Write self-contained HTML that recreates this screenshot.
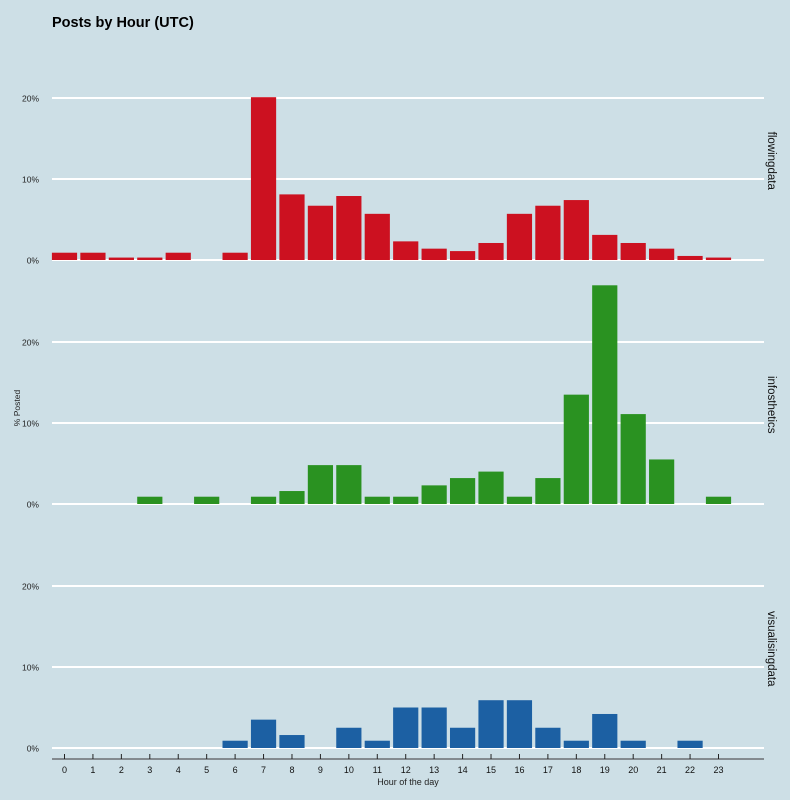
<!DOCTYPE html>
<html><head><meta charset="utf-8"><style>
body{margin:0;background:#cddfe6;}
svg{display:block;font-family:"Liberation Sans",Arial,sans-serif;}
</style></head><body>
<svg id="chart" width="790" height="800" viewBox="0 0 790 800">
<rect width="790" height="800" fill="#cddfe6"/>
<text x="52" y="27" font-size="14.5" font-weight="bold" fill="#000">Posts by Hour (UTC)</text>
<text transform="translate(20,408) rotate(-90)" text-anchor="middle" font-size="8.5" fill="#222">% Posted</text>
<text x="408" y="785" text-anchor="middle" font-size="9" fill="#222">Hour of the day</text>
<g id="plot"></g>
</svg>
<script>
const hours = [0,1,2,3,4,5,6,7,8,9,10,11,12,13,14,15,16,17,18,19,20,21,22,23];
const facetNames = ["flowingdata","infosthetics","visualisingdata"];
const facetColors = ["#cc1120","#2a9221","#1c60a3"];
const flowingdata = [0.9,0.9,0.3,0.3,0.9,0,0.9,20.1,8.1,6.7,7.9,5.7,2.3,1.4,1.1,2.1,5.7,6.7,7.4,3.1,2.1,1.4,0.5,0.3];
const infosthetics = [0,0,0,0.9,0,0.9,0,0.9,1.6,4.8,4.8,0.9,0.9,2.3,3.2,4.0,0.9,3.2,13.5,27.0,11.1,5.5,0,0.9];
const visualisingdata = [0,0,0,0,0,0,0.9,3.5,1.6,0,2.5,0.9,5.0,5.0,2.5,5.9,5.9,2.5,0.9,4.2,0.9,0,0.9,0];
const yTicks = [0,10,20];
const yTickLabels = ["0%","10%","20%"];

const seriesList = [flowingdata, infosthetics, visualisingdata];
const NS = "http://www.w3.org/2000/svg";
const g = document.getElementById("plot");
const pxPerPct = 8.1;
const step = 654/23;
function xScale(h){ return 64.5 + h*step; }
function yScale(v, f){ return 504 + (f-1)*244 - v*pxPerPct; }
function mk(tag, attrs){ const e=document.createElementNS(NS,tag); for(const k in attrs) e.setAttribute(k,attrs[k]); g.appendChild(e); return e; }

seriesList.forEach((series, f) => {
  yTicks.forEach((t, i) => {
    const y = yScale(t, f);
    const line = mk("line",{x1:52,x2:764,y1:y,y2:y,stroke:"#ffffff","stroke-width":2});
    
    
    const lab = mk("text",{x:39,y:y+3.5,"text-anchor":"end","font-size":8.5,fill:"#222"});
    lab.textContent = yTickLabels[i];
    
    
  });
  series.forEach((v, h) => {
    if (v <= 0) return;
    const y0 = yScale(0, f), y1 = yScale(v, f);
    const r = mk("rect",{x:xScale(hours[h])-12.6,y:y1,width:25.2,height:y0-y1,fill:facetColors[f]});
    
    
  });
  const cy = yScale(12.5, f) + 2;
  const ft = mk("text",{transform:"translate(768,"+cy+") rotate(90)","text-anchor":"middle","font-size":11.5,fill:"#111"});
  ft.textContent = facetNames[f];
  
  
});

const axis = mk("line",{x1:52,x2:764,y1:759,y2:759,stroke:"#6b6f72","stroke-width":1.5});


hours.forEach(h => {
  const x = xScale(h);
  const tk = mk("line",{x1:x,x2:x,y1:754,y2:759,stroke:"#222","stroke-width":1});
  
  
  const tl = mk("text",{x:x,y:773,"text-anchor":"middle","font-size":9,fill:"#111"});
  tl.textContent = h;
  
  
});
</script>
</body></html>
